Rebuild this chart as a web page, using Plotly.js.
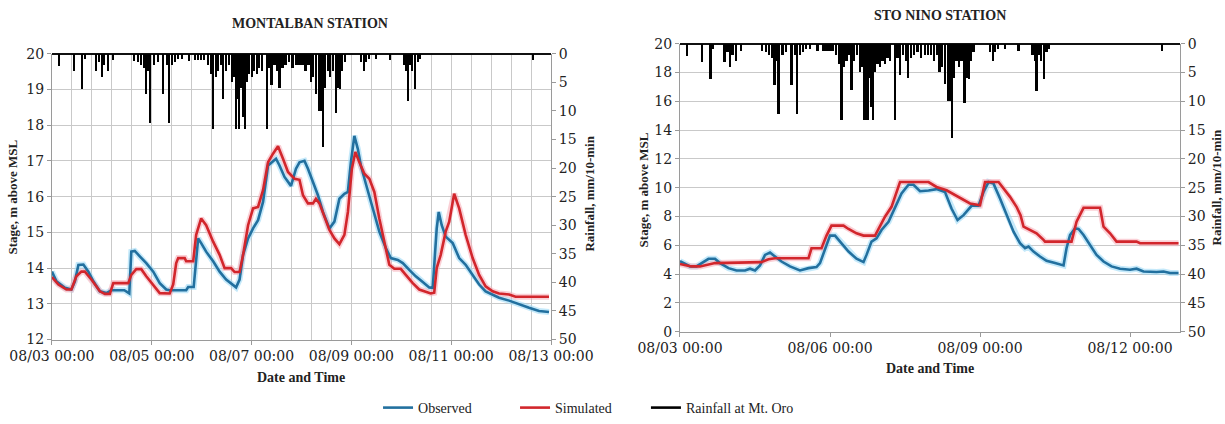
<!DOCTYPE html>
<html>
<head>
<meta charset="utf-8">
<script src="https://cdn.plot.ly/plotly-3.0.1.min.js"></script>
<style>html,body{margin:0;padding:0;background:#fff;}#chart{width:1225px;height:424px;}</style>
</head>
<body>
<div id="chart"></div>
<script>
// ---- data (elapsed days since 08/03 00:00) ----
const startDate = [2012, 7, 3];

const rainDay = [0.14,0.44,0.61,0.66,0.89,0.95,1.0,1.05,1.12,1.22,1.64,1.72,1.78,1.85,1.89,1.93,1.97,2.05,2.12,2.23,2.30,2.34,2.40,2.46,2.52,2.60,2.75,2.87,2.93,2.99,3.05,3.12,3.18,3.23,3.28,3.33,3.38,3.43,3.48,3.54,3.60,3.65,3.69,3.72,3.75,3.79,3.83,3.86,3.90,3.95,4.0,4.05,4.10,4.15,4.2,4.3,4.35,4.4,4.46,4.52,4.56,4.62,4.68,4.75,4.82,4.90,4.96,5.02,5.08,5.14,5.19,5.24,5.30,5.36,5.40,5.44,5.48,5.53,5.58,5.63,5.69,5.73,5.78,5.82,5.87,6.20,6.26,6.30,6.36,6.50,6.77,7.05,7.10,7.13,7.17,7.22,7.28,7.33,7.38,9.64];
const rainMm = [2.2,3.1,6.1,1.0,3.1,1.5,4.0,2,3.0,1.2,1.3,1.5,2,2.5,7.1,3,12.2,2,1.5,7.1,2,12.2,2,1.5,1,1,1.3,1.2,1.2,1.2,1.2,2,3.5,13.2,4,3,2,8,3,2,5,4,13.2,8,13.2,6,11,13.2,5,3.5,4,3,3.5,2.5,3,13.2,2.5,5.5,2,3,6,2.5,2,1.5,2.5,2,2,2,3,2,5,4,7,10,10,16.3,6,3,4,3,10.3,6,6.2,3,1.5,1.5,3,1.5,1,1,1.2,2,3,8.3,2,3,6.2,1.5,1,1.2];

const montObsDay = [0,0.09,0.26,0.39,0.46,0.53,0.63,0.73,0.83,0.96,1.09,1.19,1.45,1.55,1.59,1.66,1.76,1.89,2.03,2.16,2.29,2.36,2.69,2.73,2.84,2.93,2.99,3.09,3.23,3.36,3.49,3.63,3.69,3.76,3.83,3.93,4.03,4.13,4.23,4.33,4.43,4.49,4.56,4.66,4.79,4.89,4.96,5.06,5.13,5.23,5.33,5.43,5.56,5.66,5.76,5.86,5.93,5.99,6.06,6.13,6.19,6.29,6.43,6.56,6.69,6.79,6.93,7.03,7.16,7.29,7.43,7.56,7.63,7.66,7.71,7.75,7.81,7.89,8.03,8.16,8.29,8.43,8.56,8.69,8.83,8.96,9.16,9.36,9.56,9.76,9.96];
const montObs = [13.9,13.63,13.45,13.4,13.63,14.09,14.1,13.9,13.63,13.35,13.3,13.38,13.38,13.29,14.46,14.48,14.33,14.14,13.9,13.58,13.4,13.38,13.38,13.47,13.47,14.83,14.7,14.46,14.19,13.9,13.68,13.54,13.46,13.68,14.37,14.83,15.11,15.34,15.85,16.87,17.0,17.06,16.87,16.55,16.3,16.78,16.96,17.0,16.78,16.41,16.04,15.57,15.11,15.3,15.94,16.08,16.13,16.96,17.7,17.33,16.87,16.36,15.67,15.02,14.56,14.28,14.23,14.14,13.95,13.77,13.61,13.46,13.45,14.0,15.11,15.57,15.2,14.88,14.7,14.28,14.09,13.81,13.54,13.35,13.26,13.17,13.09,12.98,12.89,12.8,12.77];

const montSimDay = [0,0.13,0.29,0.39,0.49,0.59,0.66,0.79,0.96,1.06,1.16,1.23,1.53,1.59,1.69,1.79,1.89,2.03,2.16,2.36,2.43,2.49,2.53,2.66,2.69,2.83,2.89,2.99,3.09,3.23,3.36,3.46,3.59,3.66,3.76,3.83,3.93,4.03,4.13,4.23,4.33,4.43,4.53,4.63,4.73,4.86,4.96,5.03,5.13,5.23,5.29,5.36,5.46,5.56,5.66,5.76,5.86,5.93,6.01,6.08,6.16,6.26,6.36,6.46,6.56,6.66,6.76,6.86,6.99,7.09,7.23,7.36,7.49,7.59,7.66,7.71,7.79,7.89,7.96,8.06,8.16,8.29,8.43,8.56,8.69,8.83,8.96,9.16,9.29,9.96];
const montSim = [13.75,13.54,13.4,13.4,13.77,13.9,13.9,13.68,13.35,13.28,13.28,13.58,13.58,13.81,13.97,13.97,13.77,13.54,13.3,13.29,13.54,14.14,14.28,14.28,14.19,14.19,14.93,15.39,15.2,14.74,14.37,14.0,14.0,13.89,13.89,14.37,15.2,15.67,15.71,16.18,16.96,17.2,17.41,17.06,16.69,16.5,16.47,16.04,15.81,15.81,15.94,15.81,15.44,15.07,14.83,14.67,14.93,15.57,16.78,17.25,16.96,16.64,16.5,16.13,15.39,14.74,14.09,13.98,13.98,13.81,13.58,13.4,13.35,13.29,13.31,14.0,14.37,15.02,15.3,16.08,15.67,14.93,14.28,13.81,13.49,13.35,13.29,13.26,13.2,13.2];

const snObsDay = [0,0.07,0.2,0.33,0.43,0.57,0.7,0.8,0.97,1.13,1.3,1.4,1.5,1.6,1.7,1.8,1.9,2.03,2.2,2.4,2.57,2.73,2.8,2.9,3.0,3.1,3.23,3.37,3.53,3.67,3.73,3.83,3.93,4.03,4.17,4.3,4.43,4.57,4.67,4.8,4.97,5.13,5.3,5.43,5.55,5.67,5.83,5.97,6.07,6.17,6.27,6.4,6.53,6.67,6.8,6.9,6.97,7.07,7.2,7.33,7.5,7.67,7.73,7.8,7.9,7.97,8.07,8.2,8.33,8.47,8.63,8.8,9.0,9.13,9.27,9.53,9.67,9.8,9.97];
const snObs = [4.9,4.76,4.53,4.53,4.76,5.06,5.06,4.76,4.41,4.25,4.25,4.37,4.25,4.6,5.33,5.49,5.22,4.87,4.53,4.25,4.41,4.48,4.76,5.79,6.67,6.67,6.14,5.56,5.06,4.83,5.33,6.25,6.48,7.06,7.63,8.67,9.59,10.2,10.2,9.75,9.8,9.9,9.7,8.55,7.75,8.09,8.74,8.74,9.7,10.39,10.28,9.24,8.09,6.94,6.14,5.79,5.91,5.56,5.22,4.92,4.76,4.6,5.79,6.71,7.17,7.13,6.71,6.02,5.33,4.87,4.53,4.37,4.3,4.37,4.18,4.14,4.18,4.07,4.07];

const snSimDay = [0,0.1,0.23,0.4,0.57,0.7,1.63,1.77,1.9,2.57,2.63,2.83,2.93,3.03,3.27,3.37,3.53,3.67,3.9,3.97,4.1,4.23,4.33,4.4,4.97,5.13,5.33,5.5,5.67,5.8,6.0,6.1,6.37,6.47,6.6,6.73,6.81,6.87,7.0,7.13,7.27,7.3,7.83,7.93,8.07,8.4,8.47,8.6,8.73,9.13,9.2,9.97];
const snSim = [4.69,4.6,4.53,4.53,4.64,4.76,4.83,5.03,5.1,5.1,5.79,5.79,6.67,7.36,7.36,7.13,6.83,6.67,6.67,7.17,7.98,8.67,9.7,10.39,10.39,10.05,9.82,9.47,9.13,8.9,8.78,10.39,10.39,9.93,9.36,8.67,8.09,7.29,7.06,6.83,6.37,6.25,6.25,7.63,8.6,8.6,7.29,6.83,6.25,6.25,6.14,6.14];

const seriesNames = ['Observed', 'Simulated', 'Rainfall at Mt. Oro'];
const stationTitles = ['MONTALBAN STATION', 'STO NINO STATION'];

// ---- helpers ----
function toDate(d) {
  const ms = Date.UTC(startDate[0], startDate[1], startDate[2]) + Math.round(d * 86400000);
  return new Date(ms).toISOString().slice(0, 19).replace('T', ' ');
}
const dates = arr => arr.map(toDate);

const BLUE = '#22709f', RED = '#d2262c', GRID = '#c9c9c9', AX = '#9a9a9a';
const BLUE_HALO = 'rgba(150,215,245,0.55)', RED_HALO = 'rgba(245,170,180,0.55)';
const FONT = "'Liberation Serif', 'DejaVu Serif', serif";
const TFONT = "'DejaVu Serif', serif";
const DAY = 86400000;

function line(x, y, xa, ya, color, w, name, show, lg) {
  const t = {type:'scatter', mode:'lines', name:name, x:x, y:y, xaxis:xa, yaxis:ya, line:{color:color, width:w}, showlegend:show, hoverinfo:'skip'};
  if (lg) t.legend = lg;
  return t;
}

const traces = [
  {type:'bar', x:dates(rainDay), y:rainMm, xaxis:'x', yaxis:'y2', marker:{color:'#000', line:{width:0}}, width:DAY/24, showlegend:false, hoverinfo:'skip'},
  line(dates(montObsDay), montObs, 'x', 'y', BLUE_HALO, 6, '', false),
  line(dates(montSimDay), montSim, 'x', 'y', RED_HALO, 6, '', false),
  line(dates(montObsDay), montObs, 'x', 'y', BLUE, 2.6, seriesNames[0], true),
  line(dates(montSimDay), montSim, 'x', 'y', RED, 2.6, seriesNames[1], true),
  {type:'bar', x:dates(rainDay), y:rainMm, xaxis:'x2', yaxis:'y4', marker:{color:'#000', line:{width:0}}, width:DAY/24, showlegend:false, hoverinfo:'skip'},
  line(dates(snObsDay), snObs, 'x2', 'y3', BLUE_HALO, 6, '', false),
  line(dates(snSimDay), snSim, 'x2', 'y3', RED_HALO, 6, '', false),
  line(dates(snObsDay), snObs, 'x2', 'y3', BLUE, 2.6, seriesNames[0], false),
  line(dates(snSimDay), snSim, 'x2', 'y3', RED, 2.6, seriesNames[1], false),
  line([null], [null], 'x', 'y', '#000', 2.6, seriesNames[2], true, 'legend2')
];

const tickFont = {family:TFONT, size:14, color:'#222'};
const baseAxis = {showline:true, linecolor:AX, linewidth:1, ticks:'outside', ticklen:4, tickcolor:AX, tickfont:tickFont, zeroline:false, fixedrange:true, automargin:false};
const xr = [toDate(0), toDate(10)];

function ann(text, x, y, size, angle) {
  return {text:'<b>'+text+'</b>', xref:'paper', yref:'paper', x:x, y:y, xanchor:'center', yanchor:'middle', textangle:angle||0, showarrow:false, font:{family:FONT, size:size, color:'#222'}};
}
const legFont = {family:FONT, size:14, color:'#222'};

const layout = {
  width:1225, height:424,
  margin:{l:0, r:0, t:0, b:0},
  paper_bgcolor:'#fff', plot_bgcolor:'rgba(0,0,0,0)',
  bargap:0,
  showlegend:true,
  legend:{orientation:'h', x:0.3086, xanchor:'left', y:0.03, yanchor:'middle', font:legFont, itemwidth:30, entrywidth:92, tracegroupgap:0, bgcolor:'rgba(0,0,0,0)'},
  legend2:{orientation:'h', x:0.5273, xanchor:'left', y:0.03, yanchor:'middle', font:legFont, itemwidth:30, bgcolor:'rgba(0,0,0,0)'},
  xaxis: Object.assign({}, baseAxis, {domain:[0.0424,0.4498], anchor:'y', type:'date', range:xr, tick0:toDate(0), dtick:2*DAY, tickformat:'%m/%d %H:%M', showgrid:true, gridcolor:GRID,
           minor:{dtick:0.4*DAY, tick0:toDate(0), showgrid:true, gridcolor:GRID, ticks:''}}),
  yaxis: Object.assign({}, baseAxis, {domain:[0.1934,0.8726], anchor:'x', range:[12,20], dtick:1, showgrid:true, gridcolor:GRID}),
  yaxis2: Object.assign({}, baseAxis, {overlaying:'y', side:'right', anchor:'x', range:[50,0], dtick:5, showgrid:false, zeroline:true, zerolinecolor:'#111', zerolinewidth:2}),
  xaxis2: Object.assign({}, baseAxis, {domain:[0.5551,0.9633], anchor:'y3', type:'date', range:xr, tick0:toDate(0), dtick:3*DAY, tickformat:'%m/%d %H:%M', showgrid:false}),
  yaxis3: Object.assign({}, baseAxis, {domain:[0.2123,0.8962], anchor:'x2', range:[0,20], dtick:2, showgrid:true, gridcolor:GRID}),
  yaxis4: Object.assign({}, baseAxis, {overlaying:'y3', side:'right', anchor:'x2', range:[50,0], dtick:5, showgrid:false, zeroline:true, zerolinecolor:'#111', zerolinewidth:2}),
  annotations:[
    ann(stationTitles[0], 0.253, 0.943, 14),
    ann(stationTitles[1], 0.767, 0.962, 14),
    ann('Stage, m above MSL', 0.0106, 0.533, 13, -90),
    ann('Rainfall, mm/10-min', 0.4816, 0.54, 13, -90),
    ann('Stage, m above MSL', 0.525, 0.548, 13, -90),
    ann('Rainfall, mm/10-min', 0.9927, 0.555, 13, -90),
    ann('Date and Time', 0.2457, 0.1038, 14),
    ann('Date and Time', 0.759, 0.125, 14)
  ]
};

Plotly.newPlot('chart', traces, layout, {displayModeBar:false, staticPlot:true});
</script>
</body>
</html>
